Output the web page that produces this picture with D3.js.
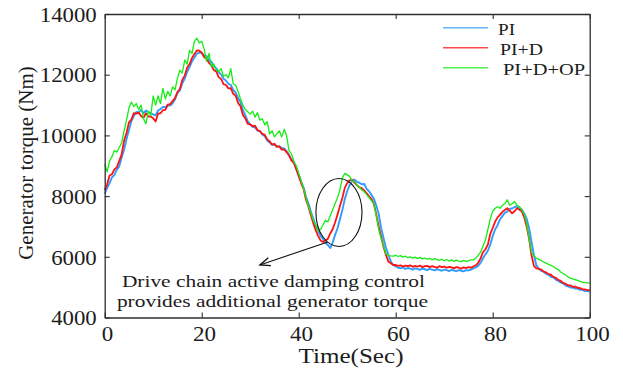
<!DOCTYPE html>
<html>
<head>
<meta charset="utf-8">
<script src="https://cdn.jsdelivr.net/npm/d3@7"></script>
<style>
  body { margin: 0; background: #fff; }
  svg { display: block; }
  text { font-family: "Liberation Serif", "Times New Roman", serif; fill: #1c1c1c; }
</style>
</head>
<body>
<svg id="chart" width="623" height="371"></svg>
<script>
// Sampling interval of the recorded torque traces (seconds)
const sampleStep = 0.5;
const timeRange = [0, 100];
const torqueRange = [4000, 14000];

const xTicks = [0, 20, 40, 60, 80, 100];
const yTicks = [4000, 6000, 8000, 10000, 12000, 14000];

const seriesNames = ["PI", "PI+D", "PI+D+OP"];
const seriesColors = ["#2f9cff", "#ff1212", "#14ee14"];

// Generator torque (Nm), one row per 10 s
const piTorque = [
  8080, 8260, 8430, 8620, 8690, 8870, 8980, 9270, 9530, 9880, 10180, 10470, 10640, 10770, 10760, 10840, 10730, 10820, 10760, 10740,
  10690, 10660, 10820, 10870, 10940, 10930, 10990, 10980, 11060, 11190, 11390, 11480, 11720, 11870, 12090, 12250, 12440, 12560, 12690, 12730,
  12710, 12640, 12610, 12480, 12430, 12290, 12210, 12080, 12010, 11870, 11810, 11700, 11660, 11500, 11410, 11230, 11090, 10830, 10660, 10460,
  10360, 10280, 10260, 10160, 10130, 10030, 9970, 9830, 9770, 9690, 9690, 9640, 9640, 9590, 9570, 9480, 9360, 9210, 9110, 8930,
  8710, 8480, 8290, 7980, 7760, 7490, 7260, 7030, 6860, 6690, 6590, 6460, 6390, 6290, 6470, 6720, 6940, 7240, 7540, 7900,
  8160, 8360, 8500, 8540, 8470, 8440, 8390, 8400, 8240, 8160, 8040, 7910, 7690, 7410, 6940, 6610, 6290, 6060, 5840, 5730,
  5680, 5640, 5620, 5650, 5600, 5630, 5610, 5580, 5620, 5600, 5570, 5610, 5590, 5560, 5600, 5580, 5550, 5590, 5570, 5540,
  5580, 5560, 5530, 5570, 5550, 5530, 5560, 5540, 5520, 5560, 5550, 5580, 5620, 5650, 5700, 5800, 5950, 6080, 6200, 6400,
  6680, 6900, 7040, 7230, 7340, 7450, 7490, 7580, 7590, 7640, 7660, 7610, 7560, 7430, 7250, 6950, 6500, 6050, 5720, 5610,
  5540, 5510, 5440, 5410, 5340, 5320, 5250, 5210, 5150, 5130, 5060, 5030, 4990, 4990, 4950, 4960, 4910, 4910, 4870, 4870,
  4850
];

const pidTorque = [
  8200, 8380, 8680, 8720, 8880, 8950, 9160, 9380, 9830, 10080, 10430, 10520, 10730, 10720, 10750, 10640, 10580, 10730, 10620, 10620,
  10560, 10460, 10720, 10730, 10830, 10840, 11010, 11030, 11130, 11230, 11430, 11530, 11830, 11970, 12230, 12350, 12550, 12680, 12800, 12790,
  12730, 12580, 12520, 12390, 12310, 12150, 12110, 11920, 11860, 11690, 11660, 11550, 11560, 11370, 11310, 11070, 10960, 10670, 10560, 10380,
  10360, 10300, 10320, 10180, 10140, 10050, 10020, 9870, 9810, 9700, 9720, 9620, 9640, 9530, 9540, 9450, 9340, 9180, 9090, 8880,
  8660, 8430, 8240, 7880, 7660, 7380, 7110, 6880, 6690, 6540, 6490, 6540, 6590, 6770, 6910, 7130, 7390, 7670, 7940, 8270,
  8430, 8520, 8540, 8440, 8360, 8290, 8260, 8190, 8090, 7990, 7910, 7740, 7390, 6990, 6660, 6320, 6060, 5840, 5790, 5730,
  5730, 5700, 5720, 5680, 5710, 5690, 5720, 5670, 5700, 5680, 5710, 5660, 5690, 5700, 5660, 5690, 5670, 5640, 5690, 5660,
  5680, 5640, 5670, 5650, 5620, 5660, 5640, 5610, 5650, 5630, 5660, 5640, 5680, 5720, 5800, 5950, 6150, 6250, 6400, 6750,
  6950, 7160, 7300, 7380, 7480, 7540, 7600, 7520, 7430, 7500, 7600, 7550, 7500, 7300, 7000, 6600, 6050, 5700, 5620, 5600,
  5580, 5510, 5490, 5430, 5410, 5340, 5310, 5240, 5210, 5140, 5110, 5060, 5060, 5010, 5020, 4980, 4970, 4930, 4930, 4900,
  4900
];

const pidopTorque = [
  9050, 8800, 9150, 9300, 9500, 9450, 9600, 9750, 10150, 10500, 10900, 11100, 10950, 11050, 10850, 11000, 10550, 10380, 10800, 10650,
  11300, 11000, 11300, 11050, 11550, 11200, 11450, 11300, 11600, 11500, 11880, 12150, 12050, 12480, 12350, 12800, 12700, 13100, 13200, 13050,
  13100, 12850, 12450, 12700, 12250, 12350, 12150, 12100, 12200, 11950, 12000, 11900, 12200, 11700, 11650, 11450, 11200, 11000, 10850, 10780,
  10700, 10800, 10600, 10750, 10500, 10550, 10350, 10450, 10050, 10150, 9950, 10050, 10150, 9950, 10200, 10000, 9500, 9400, 9150, 9000,
  8750, 8500, 8250, 7950, 7650, 7450, 7200, 7050, 6850, 6900, 7050, 7200, 7150, 7350, 7550, 7750, 7950, 8200, 8600, 8750,
  8700, 8650, 8500, 8480, 8350, 8300, 8200, 8150, 8050, 7950, 7850, 7750, 7350, 6900, 6600, 6350, 6100, 6050, 6030, 6020,
  6050, 6010, 6040, 5990, 6020, 5970, 6000, 5950, 5990, 5940, 5980, 5930, 5960, 5920, 5950, 5900, 5940, 5910, 5880, 5920,
  5870, 5910, 5860, 5900, 5850, 5890, 5860, 5840, 5880, 5850, 5870, 5900, 5900, 5950, 6050, 6150, 6350, 6550, 6900, 7250,
  7500, 7600, 7650, 7600, 7700, 7750, 7880, 7700, 7750, 7820, 7700, 7650, 7550, 7400, 7100, 6600, 6150, 6050, 5950, 5920,
  5880, 5830, 5790, 5750, 5720, 5680, 5620, 5580, 5500, 5450, 5400, 5340, 5300, 5270, 5250, 5220, 5190, 5160, 5150, 5140,
  5130
];

const annotationLines = [
  "Drive chain active damping control",
  "provides additional generator torque"
];

const seriesValues = [piTorque, pidTorque, pidopTorque];
const time = d3.range(piTorque.length).map(i => i * sampleStep);

const svg = d3.select("#chart");
const plot = { left: 104.7, right: 589.7, top: 14, bottom: 317.5 };

const x = d3.scaleLinear().domain(timeRange).range([plot.left, plot.right]);
const y = d3.scaleLinear().domain(torqueRange).range([plot.bottom, plot.top]);

const axisColor = "#2e2e2e";
const styleAxis = g => {
  g.attr("color", axisColor).attr("font-family", null).attr("font-size", null);
  g.select(".domain").attr("stroke-width", 1.3);
  g.selectAll(".tick line").attr("stroke-width", 1.1);
};

// Series traces (drawn first so the frame sits on top)
const line = d3.line()
  .x((d, i) => x(time[i]))
  .y(d => y(d));

const strokeWidths = [1.9, 1.8, 1.3];
seriesValues.forEach((vals, k) => {
  svg.append("path")
    .datum(vals)
    .attr("fill", "none")
    .attr("stroke", seriesColors[k])
    .attr("stroke-width", strokeWidths[k])
    .attr("stroke-linejoin", "round")
    .attr("d", line);
});

// Frame with inward ticks on all four sides
svg.append("g")
  .attr("transform", `translate(0,${plot.bottom})`)
  .call(d3.axisBottom(x).tickValues(xTicks).tickSizeInner(-5).tickSizeOuter(0).tickPadding(9))
  .call(styleAxis)
  .call(g => g.selectAll(".tick text")
    .attr("font-size", 20)
    .attr("x", 2)
    .attr("transform", "scale(1.15,1)"));

svg.append("g")
  .attr("transform", `translate(0,${plot.top})`)
  .call(d3.axisTop(x).tickValues(xTicks).tickSizeInner(-5).tickSizeOuter(0).tickFormat(""))
  .call(styleAxis);

svg.append("g")
  .attr("transform", `translate(${plot.left},0)`)
  .call(d3.axisLeft(y).tickValues(yTicks).tickSizeInner(-5).tickSizeOuter(0).tickPadding(7).tickFormat(d3.format("d")))
  .call(styleAxis)
  .call(g => g.selectAll(".tick text")
    .attr("font-size", 20)
    .attr("dy", "0.36em")
    .attr("transform", "scale(1.14,1)"));

svg.append("g")
  .attr("transform", `translate(${plot.right},0)`)
  .call(d3.axisRight(y).tickValues(yTicks).tickSizeInner(-5).tickSizeOuter(0).tickFormat(""))
  .call(styleAxis);

// Axis titles
svg.append("text")
  .attr("x", 351)
  .attr("y", 363)
  .attr("text-anchor", "middle")
  .attr("font-size", 21)
  .attr("textLength", 105)
  .attr("lengthAdjust", "spacingAndGlyphs")
  .text("Time(Sec)");

svg.append("text")
  .attr("transform", "translate(33,163) rotate(-90)")
  .attr("text-anchor", "middle")
  .attr("font-size", 21)
  .text("Generator torque (Nm)");

// Legend
const legendRows = [
  { y: 27.7, textX: 498, base: 35, width: 17 },
  { y: 47.7, textX: 500, base: 55, width: 43 },
  { y: 67.7, textX: 503, base: 75, width: 82 }
];
seriesNames.forEach((name, k) => {
  const r = legendRows[k];
  svg.append("line")
    .attr("x1", 443).attr("x2", 488)
    .attr("y1", r.y).attr("y2", r.y)
    .attr("stroke", seriesColors[k])
    .attr("stroke-opacity", 0.75)
    .attr("stroke-width", 1.6);
  svg.append("text")
    .attr("x", r.textX)
    .attr("y", r.base)
    .attr("font-size", 17)
    .attr("textLength", r.width)
    .attr("lengthAdjust", "spacingAndGlyphs")
    .text(name);
});

// Annotation: ellipse around the recovery after the torque dip, with arrow to the note
const ellipse = { t: 48.3, v: 7460, rt: 4.75, rv: 1120 };
svg.append("ellipse")
  .attr("cx", x(ellipse.t))
  .attr("cy", y(ellipse.v))
  .attr("rx", x(ellipse.t + ellipse.rt) - x(ellipse.t))
  .attr("ry", y(ellipse.v - ellipse.rv) - y(ellipse.v))
  .attr("fill", "none")
  .attr("stroke", "#111")
  .attr("stroke-width", 1.1);

const arrowFrom = [x(46.0), y(6490)];
const arrowTo = [x(32.0), y(5730)];
const ang = Math.atan2(arrowFrom[1] - arrowTo[1], arrowFrom[0] - arrowTo[0]);
const headLen = 11, headSpread = 0.38;
svg.append("line")
  .attr("x1", arrowFrom[0]).attr("y1", arrowFrom[1])
  .attr("x2", arrowTo[0]).attr("y2", arrowTo[1])
  .attr("stroke", "#111").attr("stroke-width", 1.1);
svg.append("path")
  .attr("d", `M${arrowTo[0] + headLen * Math.cos(ang + headSpread)},${arrowTo[1] + headLen * Math.sin(ang + headSpread)}` +
             `L${arrowTo[0]},${arrowTo[1]}` +
             `L${arrowTo[0] + headLen * Math.cos(ang - headSpread)},${arrowTo[1] + headLen * Math.sin(ang - headSpread)}`)
  .attr("fill", "none")
  .attr("stroke", "#111")
  .attr("stroke-width", 1.3);

const noteLayout = [
  { cx: 273.4, base: 287, width: 303 },
  { cx: 272.4, base: 306.5, width: 311 }
];
annotationLines.forEach((txt, i) => {
  svg.append("text")
    .attr("x", noteLayout[i].cx)
    .attr("y", noteLayout[i].base)
    .attr("text-anchor", "middle")
    .attr("font-size", 17)
    .attr("textLength", noteLayout[i].width)
    .attr("lengthAdjust", "spacingAndGlyphs")
    .text(txt);
});
</script>
</body>
</html>
